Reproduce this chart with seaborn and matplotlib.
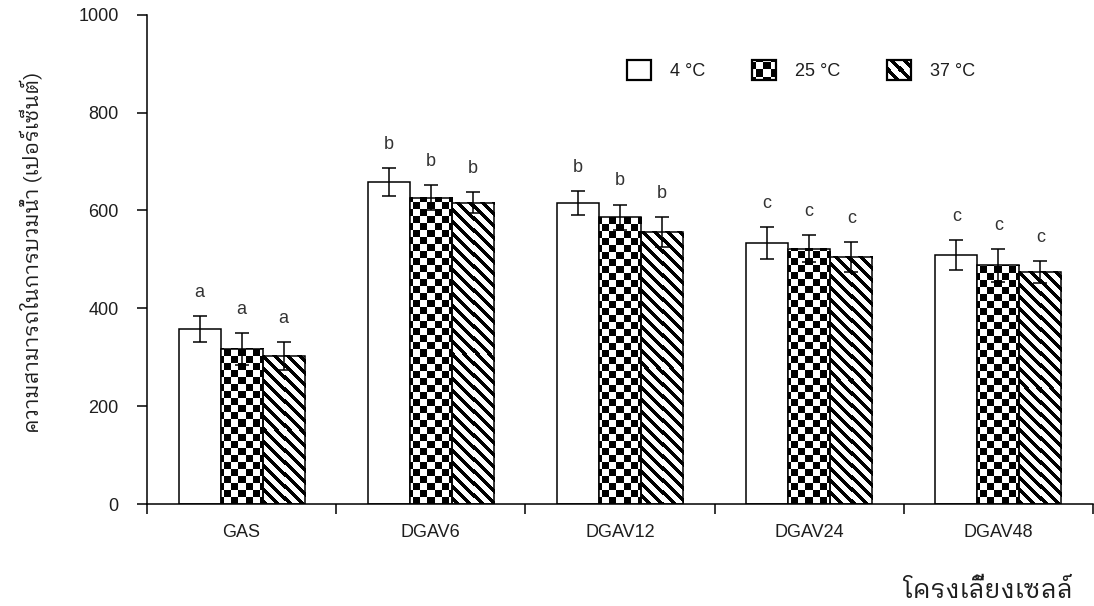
import numpy as np
import pandas as pd
import seaborn as sns
import matplotlib
matplotlib.use("Agg")
import matplotlib.pyplot as plt
from matplotlib import font_manager
from matplotlib.patches import Patch

# ---- data -------------------------------------------------------------
scaffolds = ["GAS", "DGAV6", "DGAV12", "DGAV24", "DGAV48"]
temps = ["4 °C", "25 °C", "37 °C"]

swell_4 = [358, 658, 615, 534, 509]
swell_25 = [317, 626, 586, 522, 488]
swell_37 = [303, 616, 556, 505, 474]

err_4 = [27, 28, 25, 33, 30]
err_25 = [33, 26, 26, 28, 34]
err_37 = [28, 22, 30, 31, 23]

letters_4 = ["a", "b", "b", "c", "c"]
letters_25 = ["a", "b", "b", "c", "c"]
letters_37 = ["a", "b", "b", "c", "c"]

y_ticks = [0, 200, 400, 600, 800, 1000]
y_label = "ความสามารถในการบวมน้ำ (เปอร์เซ็นต์)"
x_label = "โครงเลี้ยงเซลล์"

values = {temps[0]: swell_4, temps[1]: swell_25, temps[2]: swell_37}
errors = {temps[0]: err_4, temps[1]: err_25, temps[2]: err_37}
letters = {temps[0]: letters_4, temps[1]: letters_25, temps[2]: letters_37}

df = pd.DataFrame(
    [(s, t, values[t][i]) for t in temps for i, s in enumerate(scaffolds)],
    columns=["scaffold", "temp", "swelling"],
)


# ---- fonts --------------------------------------------------------------
def thai_families():
    """Installed families that can draw Thai script (looped styles first)."""
    try:
        from fontTools.ttLib import TTFont
    except Exception:
        return []
    found = []
    for f in font_manager.fontManager.ttflist:
        try:
            tt = TTFont(f.fname, fontNumber=0, lazy=True)
            cmap = tt.getBestCmap() or {}
            if 0x0E04 in cmap and 0x0E49 in cmap and f.name not in found:
                found.append(f.name)
        except Exception:
            continue
    found.sort(key=lambda n: (0 if "Looped" in n else 1 if "Thai" in n else 2, n))
    return found


sns.set_style("ticks")
thai = thai_families()
plt.rcParams["font.family"] = ["Liberation Sans", "DejaVu Sans"] + thai
thai_family = thai + ["DejaVu Sans"]

TEXT = "#1e1e1e"
FS = 13

# ---- figure -------------------------------------------------------------
W, H, DPI = 1094, 606, 100
fig = plt.figure(figsize=(W / DPI, H / DPI), dpi=DPI, facecolor="white")
ax = fig.add_axes([147 / W, 101.7 / H, 946 / W, 489.7 / H])

sns.barplot(
    data=df, x="scaffold", y="swelling", hue="temp",
    order=scaffolds, hue_order=temps,
    palette=["white"] * 3, saturation=1, width=0.667,
    edgecolor="black", linewidth=1.1, errorbar=None, legend=False, ax=ax,
)

ax.set_xlim(-0.5, len(scaffolds) - 0.5)
ax.set_ylim(0, 1000)

# error bars and significance letters at every bar
for t, cont in zip(temps, ax.containers):
    bars = sorted(cont.patches, key=lambda p: p.get_x())
    xs = [b.get_x() + b.get_width() / 2 for b in bars]
    ys = [b.get_height() for b in bars]
    ax.errorbar(xs, ys, yerr=errors[t], fmt="none", ecolor="black",
                elinewidth=1.1, capsize=5, capthick=1.1, zorder=6)
    for x, y, e, lab in zip(xs, ys, errors[t], letters[t]):
        ax.annotate(lab, (x, y + e), xytext=(0, 17), textcoords="offset points",
                    ha="center", va="center", fontsize=FS, color="#333333")


# ---- fill patterns (checkerboard and diagonal stripes) --------------------
def pattern(kind, px0, py0, w, h):
    X, Y = np.meshgrid(np.arange(w) + px0, np.arange(h) + py0)
    if kind == "checker":
        black = ((X // 7) + (Y // 7)) % 2 == 0
    else:
        black = ((X - Y) % 12) < 5
    return np.where(black, 0.0, 1.0)


def fill_rect(kind, x0, x1, y0, y1, transform, zorder):
    (dx0, dy0), (dx1, dy1) = transform.transform([(x0, y0), (x1, y1)])
    px0, px1 = int(round(min(dx0, dx1))), int(round(max(dx0, dx1)))
    top, bot = H - max(dy0, dy1), H - min(dy0, dy1)
    py0, py1 = int(round(top)), int(round(bot))
    img = pattern(kind, px0, py0, max(px1 - px0, 1), max(py1 - py0, 1))
    ax.imshow(img, cmap="gray", vmin=0, vmax=1, interpolation="nearest",
              extent=(x0, x1, y0, y1), aspect="auto", origin="upper",
              transform=transform, zorder=zorder)


kinds = [None, "checker", "stripes"]
for kind, cont in zip(kinds, ax.containers):
    if kind is None:
        continue
    for b in cont.patches:
        b.set_facecolor("none")
        b.set_zorder(3)
        fill_rect(kind, b.get_x(), b.get_x() + b.get_width(), 0, b.get_height(),
                  ax.transData, 2.5)

# ---- legend ---------------------------------------------------------------
handles = [Patch(facecolor="white" if k is None else "none", edgecolor="black",
                 linewidth=1.6) for k in kinds]
leg = ax.legend(handles, temps, ncol=3, frameon=False, fontsize=FS,
                loc="center left", bbox_to_anchor=(0.507, 0.886),
                borderaxespad=0, borderpad=0, handlelength=1.33,
                handleheight=1.33, handletextpad=1.05, columnspacing=2.6,
                labelcolor=TEXT)
leg.set_zorder(8)

fig.canvas.draw()
renderer = fig.canvas.get_renderer()
for kind, hp in zip(kinds, leg.get_patches()):
    if kind is None:
        continue
    bb = hp.get_window_extent(renderer)
    (ax0, ay0), (ax1, ay1) = ax.transAxes.inverted().transform(
        [(bb.x0, bb.y0), (bb.x1, bb.y1)])
    fill_rect(kind, ax0, ax1, ay0, ay1, ax.transAxes, 7.5)

ax.set_xlim(-0.5, len(scaffolds) - 0.5)
ax.set_ylim(0, 1000)

# ---- axes styling ---------------------------------------------------------
for side in ("top", "right"):
    ax.spines[side].set_visible(False)
for side in ("left", "bottom"):
    ax.spines[side].set_linewidth(1.1)
    ax.spines[side].set_color("black")

ax.set_yticks(y_ticks)
ax.set_yticklabels([str(v) for v in y_ticks])
ax.tick_params(axis="y", direction="out", length=7.5, width=1.1, pad=13,
               labelsize=FS, labelcolor=TEXT, color="black")

# boundaries between groups carry the tick marks, names sit at group centres
ax.set_xticks(np.arange(len(scaffolds) + 1) - 0.5)
ax.set_xticklabels([])
ax.set_xticks(np.arange(len(scaffolds)), minor=True)
ax.set_xticklabels(scaffolds, minor=True)
ax.tick_params(axis="x", which="major", direction="out", length=7, width=1.1,
               color="black")
ax.tick_params(axis="x", which="minor", length=0, pad=14.5, labelsize=FS,
               labelcolor=TEXT)

ax.set_ylabel(y_label, fontsize=15, color=TEXT, va="center",
              family=thai_family)
ax.yaxis.set_label_coords(-(147 - 31) / 946, 0.515)
ax.set_xlabel(x_label, fontsize=18.5, color=TEXT, ha="right", va="baseline",
              family=thai_family)
ax.xaxis.set_label_coords((1073 - 147) / 946, -94 / 489.7)

ax.set_facecolor("white")
fig.savefig("out.png", dpi=DPI, facecolor="white")
